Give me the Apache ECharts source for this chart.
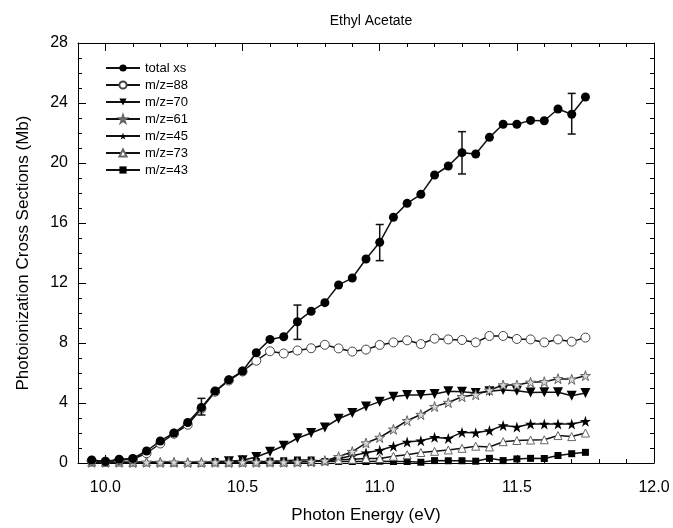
<!DOCTYPE html>
<html>
<head>
<meta charset="utf-8">
<script src="https://cdn.jsdelivr.net/npm/echarts@6/dist/echarts.min.js"></script>
<style>
html,body{margin:0;padding:0;background:#fff;}
#chart{width:673px;height:528px;}
</style>
</head>
<body>
<div id="chart"></div>
<script>
// ---- data ----
const energy = [9.95,10.00,10.05,10.10,10.15,10.20,10.25,10.30,10.35,10.40,10.45,10.50,10.55,10.60,10.65,10.70,10.75,10.80,10.85,10.90,10.95,11.00,11.05,11.10,11.15,11.20,11.25,11.30,11.35,11.40,11.45,11.50,11.55,11.60,11.65,11.70,11.75];
const totalXs = [0.2,0.1,0.25,0.3,0.8,1.47,2.0,2.7,3.7,4.8,5.55,6.13,7.35,8.24,8.42,9.42,10.12,10.69,11.87,12.33,13.6,14.71,16.38,17.31,17.91,19.2,19.8,20.69,20.6,21.71,22.58,22.58,22.84,22.82,23.6,23.25,24.4];
const mz88 = [0.15,0.1,0.2,0.25,0.65,1.3,1.95,2.55,3.62,4.75,5.5,6.1,6.82,7.45,7.3,7.5,7.65,7.88,7.64,7.43,7.56,7.87,8.04,8.18,7.93,8.29,8.24,8.2,8.04,8.47,8.47,8.27,8.24,8.04,8.24,8.09,8.36];
const mz70 = [null,null,null,null,null,null,null,null,null,null,0.12,0.18,0.4,0.75,1.15,1.65,2.0,2.37,2.95,3.33,3.76,4.09,4.42,4.53,4.53,4.6,4.78,4.75,4.67,4.78,4.87,4.81,4.7,4.72,4.72,4.49,4.67];
const mz61 = [0.05,0.04,0.05,0.03,0.05,0.04,0.05,0.03,0.04,0.05,0.04,0.05,0.05,0.06,0.05,0.06,0.1,0.15,0.42,0.76,1.33,1.7,2.25,2.82,3.23,3.76,4.03,4.42,4.55,4.85,5.2,5.2,5.38,5.42,5.62,5.58,5.82];
const mz45 = [null,null,null,null,null,null,null,null,null,null,null,null,null,null,null,null,0.08,0.15,0.3,0.49,0.68,0.85,1.12,1.4,1.48,1.71,1.64,2.04,2.02,2.16,2.5,2.4,2.6,2.6,2.6,2.6,2.78];
const mz73 = [0.06,0.05,0.06,0.05,0.07,0.06,0.05,0.06,0.05,0.06,0.05,0.06,0.06,0.07,0.06,0.08,0.1,0.15,0.22,0.25,0.3,0.3,0.45,0.55,0.7,0.78,0.87,0.98,1.12,1.07,1.42,1.5,1.53,1.55,1.83,1.76,2.0];
const mz43 = [null,null,null,null,null,null,null,null,null,0.1,0.12,0.1,0.1,0.12,0.15,0.2,0.2,0.1,0.1,0.1,0.1,0.12,0.1,0.1,0.05,0.16,0.15,0.15,0.12,0.31,0.16,0.27,0.31,0.3,0.5,0.62,0.71];
const errEnergy = [10.35,10.70,11.00,11.30,11.70];
const errLow  = [3.2,8.24,13.49,19.27,21.93];
const errHigh = [4.31,10.53,15.9,22.09,24.64];
const xMajorTicks = [10.0,10.5,11.0,11.5,12.0];
const xMinorTicks = [10.1,10.2,10.3,10.4,10.6,10.7,10.8,10.9,11.1,11.2,11.3,11.4,11.6,11.7,11.8,11.9];
const legendNames = ['total xs','m/z=88','m/z=70','m/z=61','m/z=45','m/z=73','m/z=43'];

// ---- chart ----
const FONT = "'Liberation Sans', Arial, sans-serif";
const STAR = 'path://M50,0 L61.2,34.5 L97.6,34.5 L68.2,55.9 L79.4,90.5 L50,69.1 L20.6,90.5 L31.8,55.9 L2.4,34.5 L38.8,34.5 Z';
const pair = arr => energy.map((e, i) => [e, arr[i]]);
const lineStyle = {color: '#111', width: 1.5};

function mkSeries(name, arr, symbol, size, itemStyle, extra) {
  return Object.assign({
    name: name, type: 'line', data: pair(arr),
    xAxisIndex: 0, yAxisIndex: 0,
    symbol: symbol, symbolSize: size, showAllSymbol: true,
    lineStyle: lineStyle, itemStyle: itemStyle,
    emphasis: {disabled: true}, animation: false
  }, extra || {});
}

const baseX = {type: 'value', min: 9.9, max: 12.0, splitLine: {show: false}, gridIndex: 0};

const option = {
  backgroundColor: '#fff',
  animation: false,
  title: {
    text: 'Ethyl Acetate', left: 366, top: 9, textAlign: 'center',
    textStyle: {fontFamily: FONT, fontSize: 14, fontWeight: 'normal', color: '#000'}
  },
  legend: {
    data: legendNames, orient: 'vertical', left: 100, top: 56,
    itemWidth: 34, itemHeight: 9, itemGap: 3,
    textStyle: {fontFamily: FONT, fontSize: 13, color: '#000', lineHeight: 14},
    selectedMode: false
  },
  grid: {left: 78, right: 19, top: 43, bottom: 65, containLabel: false, outerBoundsMode: 'none'},
  xAxis: [
    Object.assign({}, baseX, {
      position: 'bottom',
      name: 'Photon Energy (eV)', nameLocation: 'middle', nameGap: 44,
      nameTextStyle: {fontFamily: FONT, fontSize: 17, color: '#000'},
      axisLine: {show: true, onZero: false, lineStyle: {color: '#000', width: 1}},
      axisTick: {show: true, inside: true, length: 8, customValues: xMajorTicks, lineStyle: {color: '#000'}},
      axisLabel: {show: true, customValues: xMajorTicks, margin: 17, fontFamily: FONT, fontSize: 16, color: '#000',
                  formatter: v => Number(v).toFixed(1)}
    }),
    Object.assign({}, baseX, {
      position: 'bottom',
      axisLine: {show: false, onZero: false},
      axisTick: {show: true, inside: true, length: 4, customValues: xMinorTicks, lineStyle: {color: '#000'}},
      axisLabel: {show: false}
    }),
    Object.assign({}, baseX, {
      position: 'top',
      axisLine: {show: true, onZero: false, lineStyle: {color: '#000', width: 1}},
      axisTick: {show: true, inside: true, length: 8, customValues: xMajorTicks, lineStyle: {color: '#000'}},
      axisLabel: {show: false}
    }),
    Object.assign({}, baseX, {
      position: 'top',
      axisLine: {show: false, onZero: false},
      axisTick: {show: true, inside: true, length: 4, customValues: xMinorTicks, lineStyle: {color: '#000'}},
      axisLabel: {show: false}
    })
  ],
  yAxis: [
    {
      type: 'value', position: 'left', min: 0, max: 28, interval: 4,
      name: 'Photoionization Cross Sections (Mb)', nameLocation: 'middle', nameGap: 46,
      nameTextStyle: {fontFamily: FONT, fontSize: 17, color: '#000'},
      splitLine: {show: false},
      axisLine: {show: true, onZero: false, lineStyle: {color: '#000', width: 1}},
      axisTick: {show: true, inside: true, length: 8, lineStyle: {color: '#000'}},
      minorTick: {show: true, splitNumber: 4, length: 4, lineStyle: {color: '#000'}},
      axisLabel: {margin: 10, fontFamily: FONT, fontSize: 16, color: '#000'}
    },
    {
      type: 'value', position: 'right', min: 0, max: 28, interval: 4,
      splitLine: {show: false},
      axisLine: {show: true, onZero: false, lineStyle: {color: '#000', width: 1}},
      axisTick: {show: true, inside: true, length: 8, lineStyle: {color: '#000'}},
      minorTick: {show: true, splitNumber: 4, length: 4, lineStyle: {color: '#000'}},
      axisLabel: {show: false}
    }
  ],
  series: [
    mkSeries('m/z=43', mz43, 'rect', 7, {color: '#000'}, {z: 2}),
    mkSeries('m/z=70', mz70, 'triangle', 10, {color: '#000'}, {z: 2, symbolRotate: 180}),
    mkSeries('m/z=45', mz45, STAR, 11, {color: '#000'}, {z: 2}),
    mkSeries('m/z=73', mz73, 'triangle', 8, {color: '#fff', borderColor: '#666', borderWidth: 1}, {z: 2}),
    mkSeries('m/z=61', mz61, STAR, 10, {color: '#d8d8d8', borderColor: '#666', borderWidth: 1}, {z: 2}),
    mkSeries('m/z=88', mz88, 'circle', 9, {color: '#fff', borderColor: '#444', borderWidth: 1}, {z: 3}),
    {
      name: 'errorbars', type: 'custom', xAxisIndex: 0, yAxisIndex: 0, z: 4,
      data: errEnergy.map((e, i) => [e, errLow[i], errHigh[i]]),
      encode: {x: 0, y: [1, 2]},
      renderItem: function (params, api) {
        const x = api.value(0);
        const lo = api.coord([x, api.value(1)]);
        const hi = api.coord([x, api.value(2)]);
        const w = 4;
        const st = {stroke: '#111', lineWidth: 1.5};
        return {type: 'group', children: [
          {type: 'line', shape: {x1: lo[0], y1: lo[1], x2: hi[0], y2: hi[1]}, style: st},
          {type: 'line', shape: {x1: lo[0] - w, y1: lo[1], x2: lo[0] + w, y2: lo[1]}, style: st},
          {type: 'line', shape: {x1: hi[0] - w, y1: hi[1], x2: hi[0] + w, y2: hi[1]}, style: st}
        ]};
      },
      animation: false, silent: true
    },
    mkSeries('total xs', totalXs, 'circle', 9, {color: '#000'}, {z: 5})
  ]
};

const chart = echarts.init(document.getElementById('chart'), null, {renderer: 'canvas'});
chart.setOption(option);
</script>
</body>
</html>
